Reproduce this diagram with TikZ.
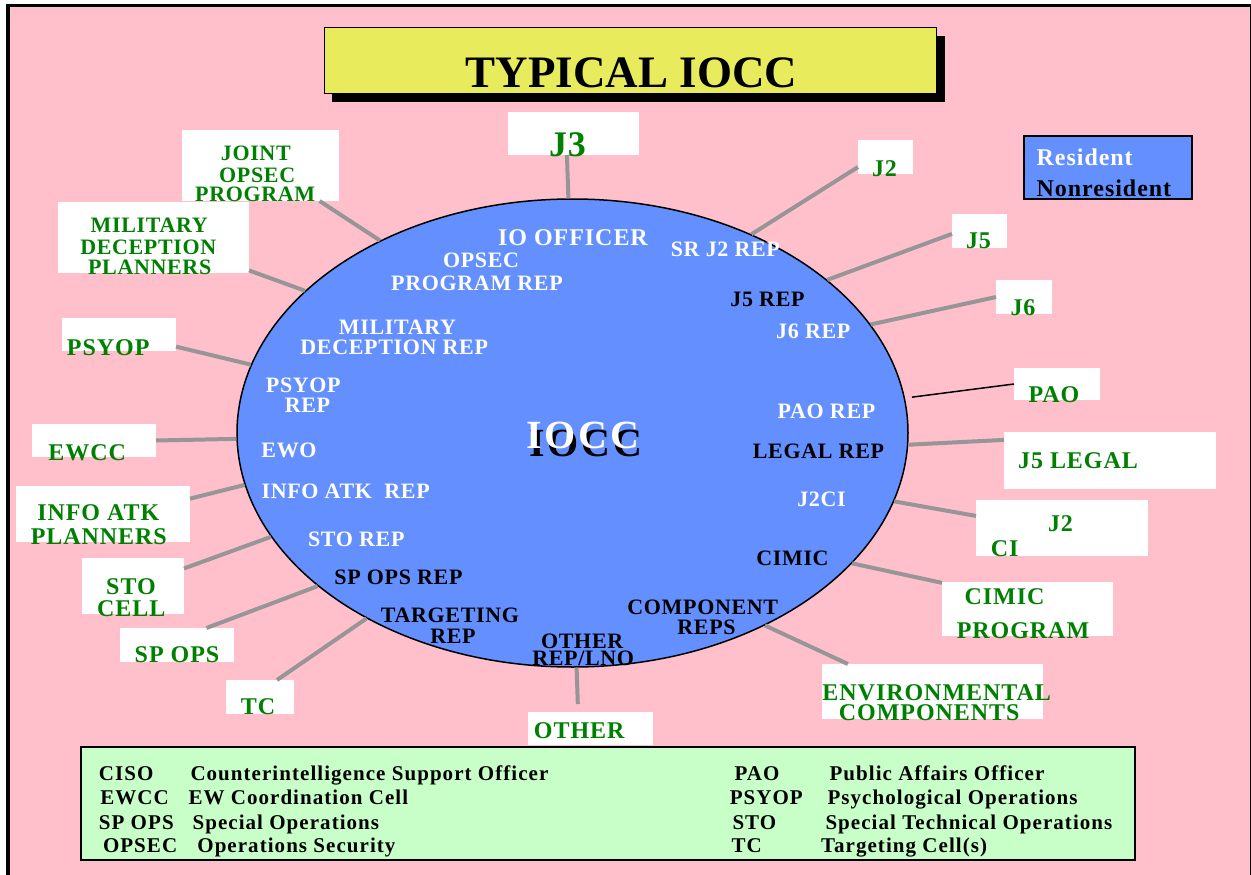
\documentclass[tikz,border=0pt]{standalone}
\usepackage{fontspec}
\setmainfont{Liberation Serif}
\usetikzlibrary{shapes.geometric}

\definecolor{sheetpink}{RGB}{255,192,203}
\definecolor{cellblue}{RGB}{99,143,255}
\definecolor{titleyellow}{RGB}{232,235,92}
\definecolor{keygreen}{RGB}{200,255,200}
\definecolor{textgreen}{RGB}{0,128,0}
\definecolor{spokegray}{RGB}{150,150,150}

% #1 = size in pt, #2 = letter spacing
\newcommand\lblfont[2]{\fontsize{#1}{#1}\selectfont\addfontfeature{LetterSpace=#2}}

\tikzset{
  txt/.style={inner sep=0pt, outer sep=0pt, anchor=base},
  outer/.style={txt, text=textgreen, font=\bfseries\lblfont{24}{4}},
  outersm/.style={txt, text=textgreen, font=\bfseries\lblfont{22}{3}},
  innerw/.style={txt, text=white, font=\bfseries\lblfont{22}{3}},
  innerk/.style={txt, text=black, font=\bfseries\lblfont{22}{3}},
  keytxt/.style={inner sep=0pt, outer sep=0pt, anchor=base west, font=\bfseries\lblfont{21}{5}},
  tag/.style={fill=white, inner sep=0pt, outer sep=0pt, anchor=north west},
  spoke/.style={draw=spokegray, line width=4pt},
}

\begin{document}
\begin{tikzpicture}[x=1pt,y=-1pt]
\useasboundingbox (0,0) rectangle (1251,875);

% sheet and frame
\fill[white] (0,0) rectangle (1251,875);
\fill[sheetpink] (8,5.5) rectangle (1251,875);
\draw[line width=3.6pt] (8,880) -- (8,5.5) -- (1251,5.5);
\draw[line width=1.5pt] (1250.3,5.5) -- (1250.3,880);

% title
\fill[black] (332,36) rectangle (945,102);
\node[draw=black, line width=1.2pt, fill=titleyellow, anchor=north west,
      minimum width=612pt, minimum height=66pt, inner sep=0pt] (titlebox) at (324,27) {};
\node[txt, font=\bfseries\lblfont{45}{0}] (title) at (631.4,87.3) {TYPICAL IOCC};

% resident / nonresident key
\node[draw=black, line width=1.5pt, fill=cellblue, anchor=north west,
      minimum width=168pt, minimum height=63pt, inner sep=0pt] (keyres) at (1023,135) {};
\node[txt, anchor=base west, text=white, font=\bfseries\lblfont{24}{4}] (resident) at (1036.7,165.7) {Resident};
\node[txt, anchor=base west, text=black, font=\bfseries\lblfont{24}{4}] (nonresident) at (1036.7,196) {Nonresident};

% the cell
\node[ellipse, draw=black, line width=1.5pt, fill=cellblue, inner sep=0pt,
      minimum width=671pt, minimum height=468pt] (iocc) at (572.5,433) {};

% outside organisations
\node[tag, minimum width=131pt, minimum height=43pt] (j3box) at (508,112) {};
\node[tag, minimum width=157pt, minimum height=71pt] (jointbox) at (182,130) {};
\node[tag, minimum width=191pt, minimum height=71pt] (mildbox) at (58,202) {};
\node[tag, minimum width=114pt, minimum height=33pt] (psyopbox) at (62,318) {};
\node[tag, minimum width=124pt, minimum height=33pt] (ewccbox) at (32,424) {};
\node[tag, minimum width=174pt, minimum height=56pt] (infobox) at (16,486) {};
\node[tag, minimum width=102pt, minimum height=56pt] (stobox) at (82,558) {};
\node[tag, minimum width=114pt, minimum height=34pt] (spopsbox) at (120,628) {};
\node[tag, minimum width=68pt, minimum height=34pt] (tcbox) at (226,680) {};
\node[tag, minimum width=125pt, minimum height=33pt] (otherbox) at (528,712) {};
\node[tag, minimum width=221pt, minimum height=55pt] (envbox) at (822,664) {};
\node[tag, minimum width=171pt, minimum height=54pt] (cimicbox) at (942,582) {};
\node[tag, minimum width=172pt, minimum height=56pt] (j2cibox) at (976,500) {};
\node[tag, minimum width=212pt, minimum height=57pt] (legalbox) at (1004,432) {};
\node[tag, minimum width=86pt, minimum height=32pt] (paobox) at (1014,368) {};
\node[tag, minimum width=56pt, minimum height=34pt] (j6box) at (996,280) {};
\node[tag, minimum width=55pt, minimum height=34pt] (j5box) at (952,214) {};
\node[tag, minimum width=55pt, minimum height=34pt] (j2box) at (858,140) {};

% spokes
\draw[spoke] (iocc.91.6) -- (j3box.253.2);
\draw[spoke] (iocc.135.2) -- (jointbox.329.6);
\draw[spoke] (iocc.152.7) -- (mildbox.341.2);
\draw[spoke] (iocc.168.7) -- (psyopbox.348.6);
\draw[spoke] (iocc.181.4) -- (ewccbox.east);
\draw[spoke] (iocc.189.3) -- (infobox.10.4);
\draw[spoke] (iocc.199.0) -- (stobox.19.4);
\draw[spoke] (iocc.211.2) -- (spopsbox.30.4);
\draw[spoke] (iocc.222.9) -- (tcbox.45);
\draw[spoke, shorten >=8pt] (iocc.271.3) -- (otherbox.127.1);
\draw[spoke] (iocc.315.5) -- (envbox.162.6);
\draw[spoke] (iocc.335.8) -- (cimicbox.163.1);
\draw[spoke] (iocc.348.5) -- (j2cibox.172.1);
\draw[spoke] (iocc.358.6) -- (legalbox.169.6);
\draw[black, line width=1.5pt, shorten <=7pt] (iocc.6.2) -- (paobox.west);
\draw[spoke] (iocc.20.0) -- (j6box.west);
\draw[spoke] (iocc.31.0) -- (j5box.186.2);
\draw[spoke] (iocc.48.6) -- (j2box.200);

% outside labels
\node[outer, font=\bfseries\lblfont{36}{2}] (j3) at (567.5,156.7) {J3};
\node[outersm] (joint1) at (255.8,160) {JOINT};
\node[outersm] (joint2) at (257.2,182.3) {OPSEC};
\node[outersm] (joint3) at (255.2,201.7) {PROGRAM};
\node[outersm] (mild1) at (149.2,232.3) {MILITARY};
\node[outersm] (mild2) at (148.3,254) {DECEPTION};
\node[outersm] (mild3) at (149.7,274) {PLANNERS};
\node[outer] (psyop) at (108.2,355.7) {PSYOP};
\node[outer] (ewcc) at (87.2,460) {EWCC};
\node[outer] (info1) at (98.3,520) {INFO ATK};
\node[outer] (info2) at (98.8,544) {PLANNERS};
\node[outer] (sto1) at (131,594.3) {STO};
\node[outer] (sto2) at (131.2,616) {CELL};
\node[outer] (spops) at (177,662.3) {SP OPS};
\node[outer] (tc) at (258,714) {TC};
\node[outer] (other) at (579.2,738.3) {OTHER};
\node[outer] (env1) at (936.7,700) {ENVIRONMENTAL};
\node[outer] (env2) at (929.2,720) {COMPONENTS};
\node[outer] (cimic1) at (1004.5,604.3) {CIMIC};
\node[outer] (cimic2) at (1023,638.3) {PROGRAM};
\node[outer] (j2ci1) at (1060.5,531.7) {J2};
\node[outer] (j2ci2) at (1004.7,556) {CI};
\node[outer] (legal) at (1078,468.3) {J5 LEGAL};
\node[outer] (pao) at (1054,402.7) {PAO};
\node[outer] (j6) at (1023,315) {J6};
\node[outer] (j5) at (978.5,248.3) {J5};
\node[outer] (j2) at (884.5,176) {J2};

% representatives inside the cell
\node[innerw, font=\bfseries\lblfont{24}{4}] (iooff) at (573,245.7) {IO OFFICER};
\node[innerw] (opsec1) at (481,267.7) {OPSEC};
\node[innerw] (opsec2) at (477,290) {PROGRAM REP};
\node[innerw] (srj2) at (725.4,256.7) {SR J2 REP};
\node[innerk] (j5rep) at (767.5,306.7) {J5 REP};
\node[innerw] (j6rep) at (813.3,338.3) {J6 REP};
\node[innerw] (mdrep1) at (397.5,334.3) {MILITARY};
\node[innerw] (mdrep2) at (394.2,354) {DECEPTION REP};
\node[innerw] (psrep1) at (303.3,392.3) {PSYOP};
\node[innerw] (psrep2) at (307.5,412.3) {REP};
\node[innerw] (ewo) at (289,457.7) {EWO};
\node[innerw] (inforep) at (345.7,498.3) {INFO ATK\ \ REP};
\node[innerw] (storep) at (356.3,546.7) {STO REP};
\node[innerk] (spopsrep) at (398.5,584.3) {SP OPS REP};
\node[innerk] (tgtrep1) at (450,622.3) {TARGETING};
\node[innerk] (tgtrep2) at (453,643) {REP};
\node[innerk] (othrep1) at (582.2,648.3) {OTHER};
\node[innerk] (othrep2) at (583.2,665.7) {REP/LNO};
\node[innerk] (comprep1) at (702.8,614.3) {COMPONENT};
\node[innerk] (comprep2) at (706.5,634) {REPS};
\node[innerk] (cimicrep) at (792.5,565) {CIMIC};
\node[innerw] (j2cirep) at (821.5,506.7) {J2CI};
\node[innerk] (legalrep) at (818.5,458.3) {LEGAL REP};
\node[innerw] (paorep) at (826.5,418.3) {PAO REP};

% cell title with its shadow
\node[txt, text=black, font=\bfseries\lblfont{40}{7}] (ioccshadow) at (586,456) {IOCC};
\node[txt, text=white, font=\bfseries\lblfont{40}{7}] (iocctitle) at (583,448.3) {IOCC};

% abbreviations
\node[draw=black, line width=2pt, fill=keygreen, anchor=north west,
      minimum width=1054pt, minimum height=113pt, inner sep=0pt] (keybox) at (80,746) {};
\node[keytxt] (k1a) at (98.9,780) {CISO};
\node[keytxt] (k1b) at (190.5,780) {Counterintelligence Support Officer};
\node[keytxt] (k2a) at (100.3,804) {EWCC};
\node[keytxt] (k2b) at (188.5,804) {EW Coordination Cell};
\node[keytxt] (k3a) at (98.9,829) {SP OPS};
\node[keytxt] (k3b) at (192.6,829) {Special Operations};
\node[keytxt] (k4a) at (103,852) {OPSEC};
\node[keytxt] (k4b) at (197.4,852) {Operations Security};
\node[keytxt] (k5a) at (734.6,780) {PAO};
\node[keytxt] (k5b) at (829.6,780) {Public Affairs Officer};
\node[keytxt] (k6a) at (729.8,804) {PSYOP};
\node[keytxt] (k6b) at (827.6,804) {Psychological Operations};
\node[keytxt] (k7a) at (732.5,829) {STO};
\node[keytxt] (k7b) at (825.5,829) {Special Technical Operations};
\node[keytxt] (k8a) at (731.5,852) {TC};
\node[keytxt] (k8b) at (821,852) {Targeting Cell(s)};
\end{tikzpicture}
\end{document}
